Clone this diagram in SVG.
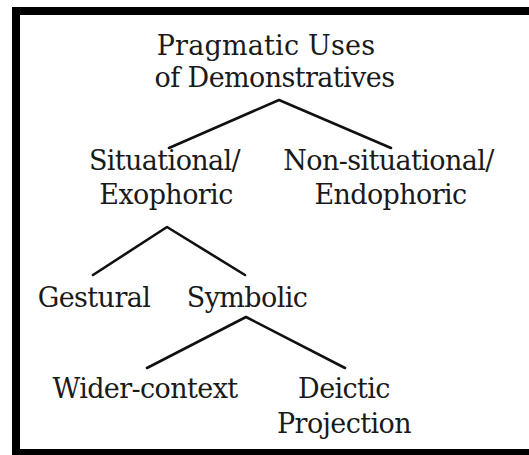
<svg xmlns="http://www.w3.org/2000/svg" width="529" height="455" viewBox="0 0 529 455">
  <style>
    .lbl { font-family: "DejaVu Serif", "Liberation Serif", serif; font-size: 27px; letter-spacing: -0.6px; fill: #1a1a1a; text-anchor: middle; }
    .edge { stroke: #111; stroke-width: 2.6; fill: none; stroke-linecap: round; stroke-linejoin: round; }
  </style>
  <rect x="0" y="0" width="529" height="455" fill="#fff"/>
  <!-- frame: top, left and bottom bars -->
  <g id="frame" fill="#000">
    <rect x="12" y="7" width="517" height="8"/>
    <rect x="12" y="7" width="8" height="448"/>
    <rect x="12" y="449" width="517" height="6"/>
  </g>
  <g id="connectors">
    <polyline class="edge" points="169,148 279,100 391,148"/>
    <polyline class="edge" points="93,275 167,227 245,275"/>
    <polyline class="edge" points="147,368 246,317 345,368"/>
  </g>
  <g id="root">
    <text class="lbl" x="266" y="55" style="letter-spacing:0.2px">Pragmatic Uses</text>
    <text class="lbl" x="274.5" y="87">of Demonstratives</text>
  </g>
  <g id="situational">
    <text class="lbl" x="164.5" y="170">Situational/</text>
    <text class="lbl" x="166" y="204">Exophoric</text>
  </g>
  <g id="non-situational">
    <text class="lbl" x="388.5" y="170">Non-situational/</text>
    <text class="lbl" x="390.5" y="204">Endophoric</text>
  </g>
  <g id="gestural">
    <text class="lbl" x="94" y="307">Gestural</text>
  </g>
  <g id="symbolic">
    <text class="lbl" x="247" y="307">Symbolic</text>
  </g>
  <g id="wider-context">
    <text class="lbl" x="145" y="398">Wider-context</text>
  </g>
  <g id="deictic-projection">
    <text class="lbl" x="344" y="398">Deictic</text>
    <text class="lbl" x="344" y="433">Projection</text>
  </g>
</svg>
